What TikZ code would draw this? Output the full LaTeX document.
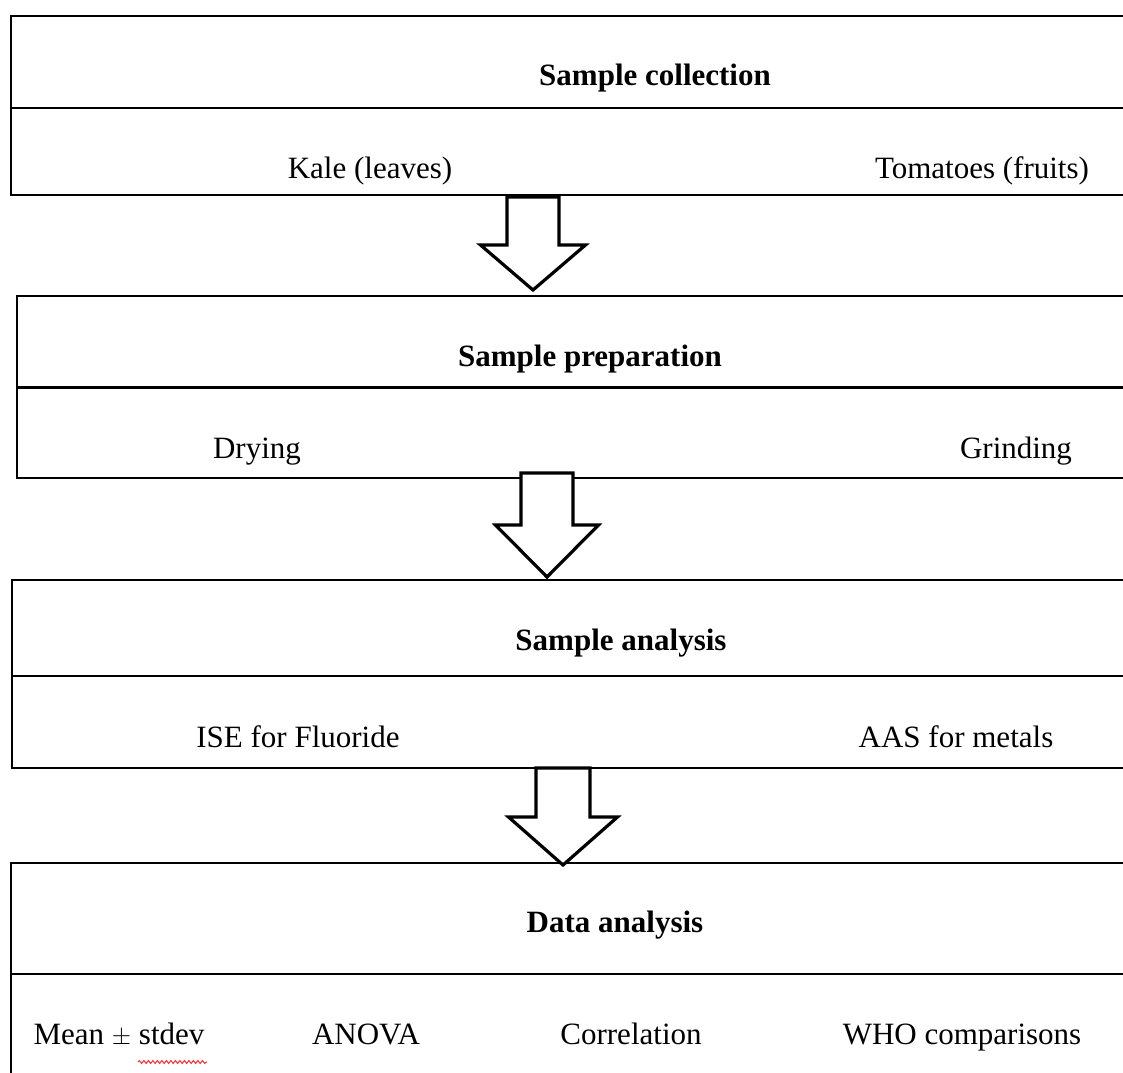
\documentclass[tikz,border=0pt]{standalone}
\usepackage{fontspec}
\setmainfont{Liberation Serif}
\usetikzlibrary{decorations.pathmorphing}

\begin{document}
\begin{tikzpicture}[x=1pt,y=-1pt,
    stage/.style={draw, line width=1.8pt, rectangle, anchor=north west, inner sep=0pt, minimum width=1140pt},
    title/.style={anchor=base, inner sep=0pt, font=\fontsize{31}{36}\selectfont\bfseries},
    item/.style={anchor=base, inner sep=0pt, font=\fontsize{31}{36}\selectfont},
    blockarrow/.style={draw, fill=white, line width=3.2pt, line join=miter}]
                \useasboundingbox (0,0) rectangle (1123,1072);
                \clip (0,0) rectangle (1123,1072);

                % stages
                \node[stage, minimum height=92pt] (colhead) at (10,15) {};
                \node[stage, minimum height=87pt] (colbody) at (10,107) {};
                \node[stage, minimum height=91pt] (prephead) at (16,295) {};
                \node[stage, minimum height=91pt] (prepbody) at (16,386) {};
                \node[stage, minimum height=96pt] (anahead) at (11,579) {};
                \node[stage, minimum height=92pt] (anabody) at (11,675) {};
                \node[stage, minimum height=111pt] (datahead) at (10,862) {};
                \node[stage, minimum height=130pt] (databody) at (10,973) {};
                \draw[line width=2.8pt] (prephead.south west) -- (prephead.south east);

                % texts
                \node[title] (coltitle) at (655,85) {Sample collection};
                \node[item] (kale) at (370,178) {Kale (leaves)};
                \node[item] (tomatoes) at (982,178) {Tomatoes (fruits)};
                \node[title] (preptitle) at (590,366) {Sample preparation};
                \node[item] (drying) at (257,458) {Drying};
                \node[item] (grinding) at (1016,458) {Grinding};
                \node[title] (anatitle) at (621,650) {Sample analysis};
                \node[item] (ise) at (298,747) {ISE for Fluoride};
                \node[item] (aas) at (956,747) {AAS for metals};
                \node[title] (datatitle) at (615,932) {Data analysis};
                \node[item] (mean) at (119,1044) {Mean \(\pm\) stdev};
                \node[item] (anova) at (366,1044) {ANOVA};
                \node[item] (corr) at (631,1044) {Correlation};
                \node[item] (who) at (962,1044) {WHO comparisons};
                \draw[red!80, line width=1pt, decorate, decoration={snake, amplitude=1.5pt, segment length=4.5pt}] (138,1062) -- (207,1062);

                % arrows between stages
                \coordinate (a1) at (533,197);
                \coordinate (a2) at (547,473);
                \coordinate (a3) at (563,768);
                \draw[blockarrow] (a1) ++(-26,0) -- ++(52,0) -- ++(0,48) -- ++(26.5,0) -- ++(-52.5,45) -- ++(-52.5,-45) -- ++(26.5,0) -- cycle;
                \draw[blockarrow] (a2) ++(-26,0) -- ++(52,0) -- ++(0,52) -- ++(25.5,0) -- ++(-51.5,52) -- ++(-51.5,-52) -- ++(25.5,0) -- cycle;
                \draw[blockarrow] (a3) ++(-27,0) -- ++(54,0) -- ++(0,49) -- ++(27.5,0) -- ++(-54.5,48) -- ++(-54.5,-48) -- ++(27.5,0) -- cycle;
            \end{tikzpicture}
\end{document}
